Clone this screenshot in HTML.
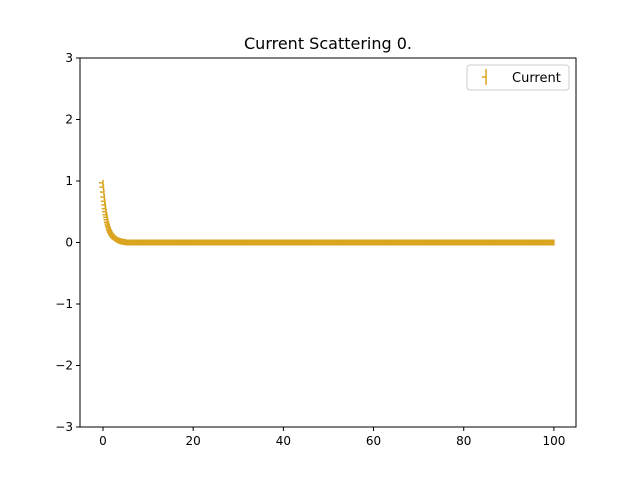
<!DOCTYPE html>
<html><head><meta charset="utf-8"><style>
body{margin:0;background:#fff;}
text{font-family:"DejaVu Sans","Liberation Sans",sans-serif;}
</style></head><body>
<svg id="chart" width="640" height="480" xmlns="http://www.w3.org/2000/svg">
<rect width="640" height="480" fill="#fff"/>
<text x="328" y="49" font-size="16" text-anchor="middle">Current Scattering 0.</text>
<g id="marks"></g>
<rect x="80" y="58" width="496" height="369" fill="none" stroke="#000" stroke-width="1"/>
<g id="axes"></g>
<g>
<rect x="467" y="65" width="102" height="25" rx="3" fill="#fff" stroke="#ccc"/>
<line x1="486" y1="69" x2="486" y2="85" stroke="#DAA520" stroke-width="1.5"/>
<line x1="482" y1="77" x2="486" y2="77" stroke="#DAA520" stroke-width="1.5"/>
<text x="512" y="82" font-size="13">Current</text>
</g>
</svg>
<script>
const xStart = 0, xStep = 0.1;
const headValues = [0.97,0.90,0.82,0.74,0.67,0.61,0.55,0.50,0.45,0.41,0.37,0.33,0.30,0.27,0.25,0.22,0.20,0.18,0.165,0.15,0.135,0.12,0.11,0.10,0.09,0.08,0.074,0.067,0.06,0.055,0.05,0.045,0.04,0.037,0.033,0.03,0.027,0.025,0.022,0.02,0.018,0.016,0.015,0.013,0.012,0.011,0.01,0.009,0.008,0.007,0.006];
const tailZeros = new Array(1001 - headValues.length).fill(0);
const yValues = headValues.concat(tailZeros);
const xTicks = [0,20,40,60,80,100];
const yTicks = [3,2,1,0,-1,-2,-3];
const yTickLabels = ["3","2","1","0","\u22121","\u22122","\u22123"];

const L=80,R=576,T=58,B=427;
const xMin=-5.1,xMax=104.9,yMin=-3,yMax=3;
const sx=v=>L+(v-xMin)/(xMax-xMin)*(R-L);
const sy=v=>B-(v-yMin)/(yMax-yMin)*(B-T);
const NS="http://www.w3.org/2000/svg";
const marks=document.getElementById('marks');
const axes=document.getElementById('axes');
function mk(tag,attrs,parent){const e=document.createElementNS(NS,tag);for(const k in attrs)e.setAttribute(k,attrs[k]);parent.appendChild(e);return e;}
yValues.forEach((v,i)=>{
  const x=sx(xStart+i*xStep),y=sy(v);
  const g=mk('g',{},marks);
  
  
  mk('line',{x1:x,y1:y-3,x2:x,y2:y+3,stroke:'#DAA520','stroke-width':1.5},g);
  mk('line',{x1:x-4,y1:y,x2:x,y2:y,stroke:'#DAA520','stroke-width':1.5},g);
});
xTicks.forEach(t=>{
  const x=sx(t);
  const g=mk('g',{},axes);
  
  
  mk('line',{x1:x,y1:B,x2:x,y2:B+4,stroke:'#000'},g);
  const tx=mk('text',{x:x,y:B+18,'font-size':12,'text-anchor':'middle'},g);tx.textContent=t;
});
yTicks.forEach((t,i)=>{
  const y=sy(t);
  const g=mk('g',{},axes);
  
  
  mk('line',{x1:L-4,y1:y,x2:L,y2:y,stroke:'#000'},g);
  const tx=mk('text',{x:L-7,y:y+4,'font-size':12,'text-anchor':'end'},g);tx.textContent=yTickLabels[i];
});
</script>
</body></html>
